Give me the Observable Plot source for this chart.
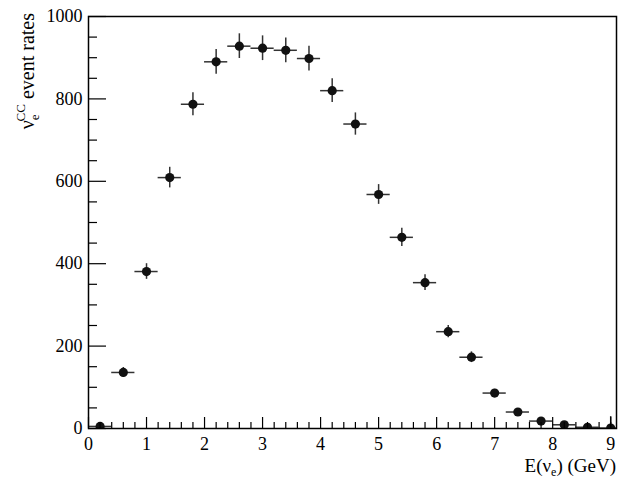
<!DOCTYPE html>
<html><head><meta charset="utf-8">
<script src="https://cdn.jsdelivr.net/npm/d3@7"></script>
<script src="https://cdn.jsdelivr.net/npm/@observablehq/plot@0.6"></script>
<style>body{margin:0;background:#fff} svg text{font-family:'Liberation Serif','DejaVu Serif',serif !important;}</style>
</head><body><div id="chart"></div>
<script>
// Bin centres (GeV), event rates and their errors
const energy = [0.2, 0.6, 1.0, 1.4, 1.8, 2.2, 2.6, 3.0, 3.4, 3.8, 4.2, 4.6, 5.0, 5.4, 5.8, 6.2, 6.6, 7.0, 7.4, 7.8, 8.2, 8.6, 9.0];
const rates  = [5, 136, 381, 609, 787, 890, 928, 923, 918, 898, 820, 739, 568, 464, 354, 235, 173, 86, 40, 18, 9, 3, 1];
const errors = [2, 12, 19, 25, 28, 30, 30, 30, 30, 30, 29, 27, 24, 22, 19, 15, 13, 9, 6, 4, 3, 2, 28];
const halfBin = 0.2;

const xMajorTicks = [0, 1, 2, 3, 4, 5, 6, 7, 8, 9];
const xMinorTicks = [0.2,0.4,0.6,0.8,1.2,1.4,1.6,1.8,2.2,2.4,2.6,2.8,3.2,3.4,3.6,3.8,4.2,4.4,4.6,4.8,5.2,5.4,5.6,5.8,6.2,6.4,6.6,6.8,7.2,7.4,7.6,7.8,8.2,8.4,8.6,8.8,9.0];
const yMajorTicks = [0, 200, 400, 600, 800, 1000];
const yMinorTicks = [50,100,150,250,300,350,450,500,550,650,700,750,850,900,950];

const data = energy.map((e, i) => ({e, r: rates[i], err: errors[i]}));

const W = 627, H = 481, mL = 88, mR = 11, mT = 16, mB = 53;
const innerW = W - mL - mR, innerH = H - mT - mB;
const font = "'Liberation Serif', 'DejaVu Serif', serif";
const barColor = "#333";

const chart = Plot.plot({
  width: W, height: H,
  marginLeft: mL, marginRight: mR, marginTop: mT, marginBottom: mB,
  style: {fontFamily: font, background: "#fff", color: "#000"},
  x: {domain: [0, 9.1], axis: null},
  y: {domain: [0, 1000], axis: null},
  marks: [
    // error bars
    Plot.ruleY(data, {y: "r", x1: d => d.e - halfBin, x2: d => d.e + halfBin, stroke: barColor, strokeWidth: 1.5, clip: true}),
    Plot.ruleX(data, {x: "e", y1: d => d.r - d.err, y2: d => d.r + d.err, stroke: barColor, strokeWidth: 1.5, clip: true}),
    Plot.dot(data, {x: "e", y: "r", r: 4.6, fill: "#111", stroke: "none", clip: true}),
    // inward ticks
    Plot.tickX(xMajorTicks, {x: d => d, insetTop: innerH - 11, stroke: "#000", strokeWidth: 1.2}),
    Plot.tickX(xMinorTicks, {x: d => d, insetTop: innerH - 6, stroke: "#000", strokeWidth: 1.2}),
    Plot.tickY(yMajorTicks, {y: d => d, insetRight: innerW - 18, stroke: "#000", strokeWidth: 1.2}),
    Plot.tickY(yMinorTicks, {y: d => d, insetRight: innerW - 9, stroke: "#000", strokeWidth: 1.2}),
    Plot.frame({stroke: "#000", strokeWidth: 1.5}),
    Plot.axisX(xMajorTicks, {tickSize: 0, tickPadding: 9, fontSize: 18, fontFamily: font, fill: "#000", label: null, tickFormat: d => String(d)}),
    Plot.axisY(yMajorTicks, {tickSize: 0, tickPadding: 6, fontSize: 18, fontFamily: font, fill: "#000", label: null, tickFormat: d => String(d)})
  ]
});

const svg = d3.select(chart);
// x-axis title: E(ν_e) (GeV)
const xt = svg.append("text")
  .attr("x", W - mR).attr("y", 472)
  .attr("text-anchor", "end")
  .attr("font-family", font).attr("font-size", 19).attr("fill", "#000");
xt.append("tspan").text("E(ν");
xt.append("tspan").attr("font-size", 12).attr("dy", 4).text("e");
xt.append("tspan").attr("dy", -4).text(") (GeV)");

// y-axis title: ν_e^CC event rates
const yt = svg.append("text")
  .attr("transform", `translate(34,13) rotate(-90)`)
  .attr("text-anchor", "end")
  .attr("font-family", font).attr("font-size", 20).attr("fill", "#000");
yt.append("tspan").text("ν");
yt.append("tspan").attr("font-size", 13).attr("dy", 5).text("e");
yt.append("tspan").attr("font-size", 13).attr("dx", -7).attr("dy", -14).text("CC");
yt.append("tspan").attr("dy", 9).text(" event rates");

document.getElementById("chart").appendChild(chart);
</script>
</body></html>
